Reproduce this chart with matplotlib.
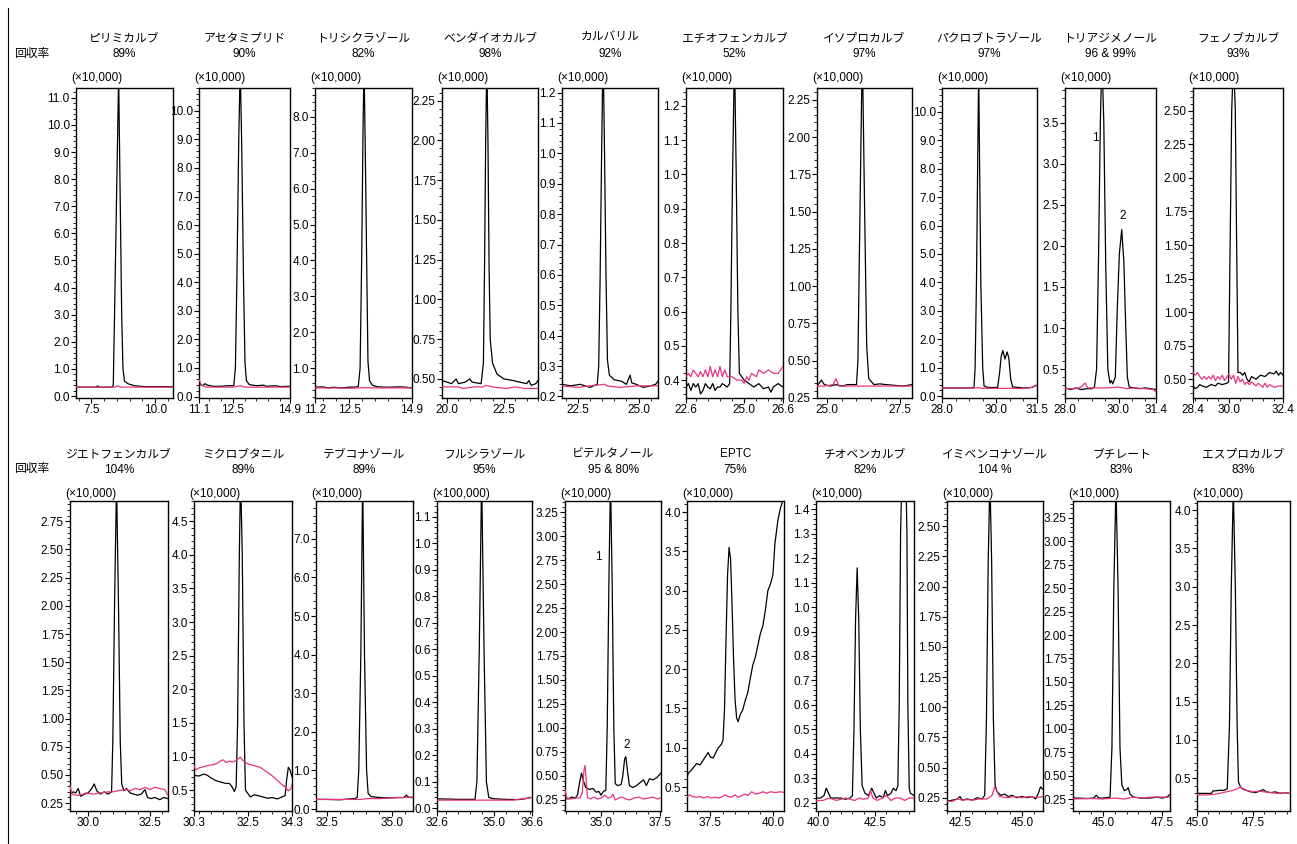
import matplotlib
matplotlib.use('Agg')
import matplotlib.pyplot as plt
from matplotlib.ticker import MultipleLocator, FixedLocator, AutoMinorLocator, FormatStrFormatter

plt.rcParams['font.family'] = ['Liberation Sans', 'Noto Sans CJK JP']

# compound names, recovery and intensity multiplier of each panel
names = ['ピリミカルブ', 'アセタミプリド', 'トリシクラゾール', 'ベンダイオカルブ', 'カルバリル',
         'エチオフェンカルブ', 'イソプロカルブ', 'パクロブトラゾール', 'トリアジメノール', 'フェノブカルブ',
         'ジエトフェンカルブ', 'ミクロブタニル', 'テブコナゾール', 'フルシラゾール', 'ビテルタノール',
         'EPTC', 'チオベンカルブ', 'イミベンコナゾール', 'ブチレート', 'エスプロカルブ']
recovery = ['89%', '90%', '82%', '98%', '92%', '52%', '97%', '97%', '96 & 99%', '93%',
            '104%', '89%', '89%', '95%', '95 & 80%', '75%', '82%', '104 %', '83%', '83%']
mult = ['(×10,000)'] * 13 + ['(×100,000)'] + ['(×10,000)'] * 6

# x tick labels (retention time, min)
xticks_all = [[7.5, 10.0], [11.1, 12.5, 14.9], [11.2, 12.5, 14.9], [20.0, 22.5], [22.5, 25.0],
              [22.6, 25.0, 26.6], [25.0, 27.5], [28.0, 30.0, 31.5], [28.0, 30.0, 31.4], [28.4, 30.0, 32.4],
              [30.0, 32.5], [30.3, 32.5, 34.3], [32.5, 35.0], [32.6, 35.0, 36.6], [35.0, 37.5],
              [37.5, 40.0], [40.0, 42.5], [42.5, 45.0], [45.0, 47.5], [45.0, 47.5]]

# chromatogram traces, (time, intensity): black = sample, pink = blank
black_01 = [(6.9,0.33),(7.5,0.33),(7.7,0.33),(7.75,0.38),(7.8,0.33),(8.3,0.33),(8.36,0.4),(8.41,3.0),
            (8.57,11.8),(8.69,3.0),(8.74,1.0),(8.8,0.55),(8.95,0.45),(9.2,0.38),(9.6,0.35),(10.7,0.35)]
pink_01 = [(6.9,0.33),(8.4,0.33),(8.55,0.38),(8.65,0.33),(10.7,0.33)]

black_02 = [(11.1,0.55),(11.15,0.42),(11.25,0.38),(11.35,0.45),(11.45,0.4),(11.7,0.36),(12.0,0.36),
            (12.3,0.38),(12.55,0.38),(12.62,1.0),(12.68,4.0),(12.76,9.0),(12.82,11.5),(12.88,9.0),
            (12.96,4.0),(13.02,1.2),(13.08,0.55),(13.2,0.42),(13.5,0.38),(13.8,0.4),(13.9,0.36),
            (14.3,0.38),(14.5,0.35),(14.9,0.36)]
pink_02 = [(11.1,0.6),(11.2,0.4),(11.4,0.33),(12.5,0.33),(12.85,0.38),(13.0,0.33),(14.9,0.33)]

black_03 = [(11.2,0.47),(11.5,0.48),(11.7,0.45),(11.9,0.47),(12.2,0.45),(12.5,0.47),(12.85,0.48),
            (12.92,1.0),(12.98,4.0),(13.03,7.5),(13.07,9.5),(13.11,7.5),(13.17,4.0),(13.22,1.2),
            (13.28,0.65),(13.4,0.52),(13.6,0.48),(14.0,0.47),(14.4,0.48),(14.7,0.47),(14.85,0.45),(14.9,0.47)]
pink_03 = [(11.2,0.45),(12.0,0.45),(12.6,0.44),(13.1,0.46),(13.5,0.45),(14.9,0.45)]

black_04 = [(19.78,0.49),(20.0,0.48),(20.2,0.47),(20.4,0.5),(20.5,0.47),(20.8,0.48),(21.0,0.5),
            (21.1,0.48),(21.5,0.47),(21.6,0.6),(21.65,1.2),(21.7,2.0),(21.75,2.5),(21.8,2.0),(21.85,1.2),
            (21.9,0.75),(22.0,0.6),(22.2,0.53),(22.5,0.5),(22.9,0.49),(23.2,0.48),(23.5,0.47),(23.6,0.49),
            (23.7,0.46),(23.9,0.47),(24.0,0.49)]
pink_04 = [(19.78,0.45),(20.5,0.45),(20.7,0.44),(21.2,0.45),(21.6,0.45),(21.7,0.46),(22.0,0.45),
           (22.6,0.44),(23.0,0.45),(23.4,0.44),(24.0,0.44)]

black_05 = [(21.85,0.24),(22.2,0.235),(22.6,0.24),(23.0,0.23),(23.3,0.24),(23.36,0.3),(23.42,0.6),
            (23.48,1.0),(23.54,1.35),(23.6,1.0),(23.66,0.6),(23.72,0.32),(23.8,0.27),(24.0,0.255),
            (24.3,0.25),(24.5,0.24),(24.65,0.27),(24.72,0.245),(24.9,0.24),(25.2,0.23),(25.5,0.235),
            (25.7,0.24),(25.8,0.25)]
pink_05 = [(21.85,0.235),(22.5,0.23),(23.0,0.235),(23.6,0.24),(23.7,0.235),(24.2,0.23),(25.0,0.235),
           (25.8,0.235)]

black_06 = [(22.6,0.38),(22.7,0.39),(22.8,0.37),(22.9,0.39),(23.0,0.38),(23.1,0.39),(23.2,0.36),
            (23.3,0.37),(23.4,0.39),(23.5,0.38),(23.6,0.375),(23.7,0.39),(23.8,0.37),(23.9,0.38),
            (24.0,0.38),(24.1,0.39),(24.3,0.38),(24.4,0.39),(24.45,0.6),(24.52,1.0),(24.6,1.35),
            (24.67,1.0),(24.74,0.6),(24.8,0.42),(24.9,0.41),(25.0,0.4),(25.2,0.39),(25.4,0.38),
            (25.6,0.39),(25.8,0.375),(26.0,0.38),(26.1,0.365),(26.2,0.38),(26.4,0.39),(26.6,0.38)]
pink_06 = [(22.6,0.41),(22.7,0.42),(22.8,0.41),(22.9,0.43),(23.0,0.42),(23.1,0.41),(23.2,0.425),
           (23.3,0.41),(23.4,0.43),(23.5,0.41),(23.6,0.44),(23.7,0.41),(23.8,0.43),(23.9,0.41),
           (24.0,0.44),(24.1,0.41),(24.2,0.43),(24.3,0.41),(24.5,0.41),(24.7,0.4),(24.9,0.4),
           (25.0,0.39),(25.1,0.41),(25.2,0.4),(25.3,0.42),(25.5,0.41),(25.6,0.43),(25.8,0.42),
           (26.0,0.43),(26.2,0.42),(26.4,0.42),(26.5,0.43),(26.6,0.44)]

black_07 = [(24.65,0.33),(24.8,0.37),(24.9,0.34),(25.1,0.33),(25.3,0.34),(25.5,0.33),(25.7,0.34),
            (26.0,0.34),(26.05,0.5),(26.12,1.5),(26.2,2.6),(26.28,1.5),(26.35,0.6),(26.42,0.38),
            (26.6,0.34),(26.8,0.345),(27.0,0.34),(27.3,0.335),(27.6,0.33),(27.9,0.34)]
pink_07 = [(24.65,0.33),(24.9,0.33),(25.2,0.34),(25.3,0.38),(25.4,0.33),(26.0,0.33),(26.5,0.33),
           (27.0,0.33),(27.9,0.33)]

black_08 = [(28.0,0.28),(29.0,0.28),(29.18,0.3),(29.22,1.0),(29.27,4.0),(29.35,11.5),(29.43,4.0),
            (29.5,1.0),(29.55,0.35),(29.7,0.3),(30.05,0.3),(30.12,0.8),(30.18,1.4),(30.24,1.6),
            (30.32,1.3),(30.4,1.55),(30.46,1.35),(30.53,0.6),(30.6,0.32),(31.0,0.28),(31.3,0.3),(31.5,0.38)]
pink_08 = [(28.0,0.28),(29.3,0.28),(29.35,0.3),(29.45,0.27),(30.5,0.27),(31.0,0.26),(31.3,0.3),(31.5,0.4)]

black_09 = [(28.0,0.27),(28.2,0.25),(28.4,0.27),(28.6,0.25),(28.8,0.26),(29.0,0.26),(29.1,0.28),
            (29.18,0.5),(29.25,1.8),(29.32,3.5),(29.38,4.3),(29.45,3.5),(29.52,1.8),(29.6,0.5),
            (29.68,0.33),(29.73,0.36),(29.78,0.32),(29.88,0.4),(29.95,1.2),(30.03,1.9),(30.12,2.2),
            (30.2,1.8),(30.27,1.0),(30.33,0.4),(30.4,0.28),(30.6,0.27),(30.8,0.26),(31.0,0.27),
            (31.2,0.26),(31.4,0.25)]
pink_09 = [(28.0,0.26),(28.4,0.26),(28.6,0.28),(28.75,0.33),(28.85,0.27),(29.2,0.27),(29.6,0.27),
           (30.0,0.28),(30.3,0.26),(30.6,0.27),(31.0,0.26),(31.3,0.25),(31.4,0.22)]

black_10 = [(28.4,0.45),(28.5,0.43),(28.6,0.44),(28.7,0.46),(28.8,0.45),(29.0,0.44),(29.2,0.46),
            (29.4,0.45),(29.5,0.47),(29.7,0.46),(29.9,0.47),(29.98,0.48),(30.05,1.5),(30.12,2.5),
            (30.2,2.9),(30.28,2.5),(30.34,1.5),(30.4,0.55),(30.5,0.55),(30.6,0.53),(30.7,0.55),
            (30.8,0.5),(30.9,0.48),(31.0,0.52),(31.2,0.5),(31.4,0.53),(31.6,0.52),(31.8,0.55),
            (32.0,0.54),(32.1,0.56),(32.2,0.53),(32.3,0.55),(32.4,0.53)]
pink_10 = [(28.4,0.55),(28.5,0.53),(28.6,0.55),(28.7,0.52),(28.8,0.5),(28.9,0.52),(29.0,0.5),
           (29.1,0.52),(29.2,0.5),(29.3,0.53),(29.4,0.49),(29.5,0.52),(29.6,0.5),(29.7,0.53),
           (29.8,0.49),(30.0,0.54),(30.1,0.5),(30.2,0.53),(30.3,0.47),(30.4,0.52),(30.5,0.48),
           (30.6,0.5),(30.7,0.46),(30.8,0.48),(30.9,0.46),(31.0,0.48),(31.2,0.45),(31.3,0.47),
           (31.5,0.44),(31.6,0.47),(31.7,0.44),(31.8,0.46),(32.0,0.44),(32.2,0.45),(32.4,0.45)]

black_11 = [(29.27,0.33),(29.4,0.35),(29.5,0.34),(29.6,0.38),(29.7,0.31),(29.85,0.33),(30.0,0.34),
            (30.15,0.38),(30.25,0.42),(30.35,0.36),(30.5,0.33),(30.65,0.35),(30.8,0.33),(30.95,0.35),
            (31.0,0.8),(31.07,2.0),(31.15,3.1),(31.23,2.0),(31.3,0.8),(31.36,0.42),(31.45,0.36),
            (31.55,0.38),(31.7,0.34),(31.85,0.33),(32.0,0.32),(32.15,0.33),(32.3,0.37),(32.4,0.3),
            (32.55,0.29),(32.7,0.3),(32.9,0.28),(33.05,0.3),(33.23,0.29)]
pink_11 = [(29.27,0.4),(29.35,0.33),(29.5,0.32),(29.7,0.32),(29.9,0.34),(30.2,0.33),(30.5,0.34),
           (30.8,0.35),(31.0,0.35),(31.2,0.36),(31.5,0.37),(31.7,0.36),(31.9,0.38),(32.1,0.37),
           (32.3,0.39),(32.5,0.37),(32.7,0.39),(32.9,0.38),(33.1,0.37),(33.23,0.32)]

black_12 = [(30.3,0.72),(30.5,0.71),(30.7,0.74),(30.85,0.72),(31.0,0.68),(31.2,0.64),(31.4,0.62),
            (31.6,0.6),(31.75,0.6),(31.85,0.55),(31.95,0.48),(32.02,0.55),(32.08,1.5),(32.15,4.0),
            (32.2,5.2),(32.27,4.0),(32.34,1.5),(32.4,0.5),(32.5,0.45),(32.6,0.4),(32.75,0.43),
            (32.9,0.42),(33.1,0.4),(33.3,0.38),(33.5,0.39),(33.7,0.37),(33.9,0.4),(34.02,0.42),
            (34.08,0.65),(34.15,0.84),(34.22,0.8),(34.3,0.7)]
pink_12 = [(30.3,0.86),(30.38,0.8),(30.5,0.83),(30.7,0.85),(30.9,0.87),(31.1,0.88),(31.25,0.9),
           (31.4,0.94),(31.5,0.95),(31.6,0.91),(31.75,0.93),(31.9,0.92),(32.05,0.95),(32.18,0.99),
           (32.3,0.94),(32.45,0.9),(32.6,0.88),(32.8,0.86),(33.0,0.84),(33.2,0.79),(33.4,0.74),
           (33.6,0.68),(33.8,0.61),(34.0,0.55),(34.15,0.49),(34.25,0.52),(34.3,0.58)]

black_13 = [(32.08,0.25),(32.5,0.25),(33.0,0.24),(33.3,0.26),(33.55,0.27),(33.66,0.3),(33.72,1.0),
            (33.8,4.0),(33.87,8.6),(33.94,4.0),(34.02,1.0),(34.08,0.4),(34.2,0.32),(34.5,0.3),
            (34.9,0.29),(35.2,0.3),(35.45,0.3),(35.55,0.36),(35.65,0.3),(35.8,0.3)]
pink_13 = [(32.08,0.25),(33.0,0.25),(33.8,0.25),(34.0,0.27),(34.5,0.27),(35.0,0.29),(35.5,0.3),(35.8,0.31)]

black_14 = [(32.6,0.035),(33.5,0.033),(34.2,0.033),(34.28,0.1),(34.38,0.6),(34.48,1.25),(34.58,0.6),
            (34.68,0.1),(34.78,0.04),(35.0,0.035),(35.5,0.033),(36.0,0.032),(36.3,0.035),(36.5,0.04),
            (36.6,0.04)]
pink_14 = [(32.6,0.03),(34.4,0.03),(34.8,0.03),(35.8,0.03),(36.0,0.033),(36.3,0.036),(36.6,0.04)]

black_15 = [(33.47,0.27),(33.6,0.26),(33.75,0.28),(33.9,0.27),(34.0,0.3),(34.08,0.42),(34.17,0.53),
            (34.25,0.45),(34.35,0.38),(34.5,0.36),(34.65,0.37),(34.8,0.33),(34.9,0.34),(35.0,0.3),
            (35.1,0.34),(35.2,0.35),(35.26,1.0),(35.33,2.5),(35.4,3.6),(35.47,2.5),(35.54,1.0),
            (35.6,0.42),(35.7,0.4),(35.85,0.41),(35.92,0.5),(36.0,0.68),(36.05,0.7),(36.12,0.55),
            (36.2,0.4),(36.35,0.38),(36.5,0.4),(36.65,0.43),(36.8,0.46),(36.92,0.4),(37.05,0.47),
            (37.2,0.46),(37.35,0.48),(37.54,0.53)]
pink_15 = [(33.47,0.36),(33.55,0.27),(33.7,0.26),(33.9,0.27),(34.1,0.27),(34.2,0.32),(34.27,0.55),
           (34.32,0.61),(34.37,0.45),(34.42,0.28),(34.55,0.26),(34.7,0.28),(34.85,0.26),(35.0,0.27),
           (35.15,0.3),(35.3,0.27),(35.42,0.28),(35.5,0.31),(35.6,0.25),(35.75,0.27),(35.9,0.28),
           (36.05,0.26),(36.2,0.25),(36.4,0.27),(36.6,0.28),(36.8,0.26),(37.0,0.27),(37.2,0.28),
           (37.4,0.26),(37.54,0.27)]

black_16 = [(36.59,0.63),(36.65,0.68),(36.72,0.7),(36.85,0.75),(36.97,0.8),(37.1,0.78),(37.23,0.84),
            (37.35,0.9),(37.43,0.94),(37.52,0.88),(37.63,0.87),(37.75,0.95),(37.83,1.0),(37.95,1.04),
            (38.02,1.1),(38.08,1.5),(38.14,2.4),(38.2,3.2),(38.26,3.55),(38.32,3.4),(38.38,2.8),
            (38.44,2.1),(38.5,1.6),(38.56,1.38),(38.62,1.33),(38.7,1.42),(38.8,1.48),(38.9,1.6),
            (39.0,1.7),(39.1,1.88),(39.2,2.05),(39.3,2.15),(39.4,2.3),(39.5,2.45),(39.6,2.55),
            (39.7,2.75),(39.8,3.0),(39.9,3.08),(40.0,3.2),(40.08,3.6),(40.2,3.9),(40.3,4.05),(40.44,4.2)]
pink_16 = [(36.59,0.38),(36.7,0.4),(36.8,0.38),(36.95,0.37),(37.1,0.38),(37.25,0.36),(37.4,0.38),
           (37.55,0.36),(37.7,0.37),(37.85,0.36),(38.0,0.38),(38.1,0.4),(38.2,0.38),(38.35,0.37),
           (38.5,0.4),(38.6,0.37),(38.75,0.39),(38.9,0.41),(39.0,0.39),(39.15,0.44),(39.3,0.41),
           (39.45,0.42),(39.6,0.44),(39.75,0.42),(39.9,0.44),(40.1,0.43),(40.3,0.44),(40.44,0.43)]

black_17 = [(39.9,0.22),(40.1,0.22),(40.25,0.23),(40.35,0.26),(40.45,0.24),(40.55,0.22),(40.8,0.22),
            (41.0,0.22),(41.2,0.215),(41.4,0.22),(41.5,0.23),(41.57,0.5),(41.64,0.95),(41.71,1.16),
            (41.78,0.95),(41.85,0.5),(41.93,0.27),(42.05,0.24),(42.2,0.23),(42.35,0.26),(42.45,0.24),
            (42.55,0.22),(42.7,0.23),(42.85,0.22),(42.95,0.25),(43.05,0.23),(43.2,0.24),(43.3,0.26),
            (43.42,0.25),(43.5,0.27),(43.56,0.6),(43.62,1.3),(43.72,1.7),(43.82,1.7),(43.9,1.3),
            (43.94,0.6),(44.0,0.26),(44.05,0.24),(44.21,0.23)]
pink_17 = [(39.9,0.21),(40.2,0.21),(40.5,0.22),(40.8,0.21),(41.2,0.22),(41.6,0.21),(41.8,0.22),
           (42.0,0.215),(42.2,0.22),(42.3,0.25),(42.4,0.22),(42.6,0.21),(42.8,0.22),(43.0,0.23),
           (43.2,0.21),(43.4,0.22),(43.6,0.22),(43.8,0.21),(44.0,0.22),(44.21,0.22)]

black_18 = [(41.98,0.22),(42.2,0.23),(42.4,0.24),(42.5,0.26),(42.6,0.23),(42.8,0.24),(43.0,0.23),
            (43.2,0.25),(43.4,0.24),(43.5,0.27),(43.57,0.9),(43.64,2.2),(43.71,2.9),(43.78,2.2),
            (43.85,0.9),(43.92,0.35),(44.0,0.3),(44.15,0.27),(44.3,0.28),(44.45,0.26),(44.6,0.27),
            (44.8,0.25),(45.0,0.26),(45.2,0.25),(45.4,0.26),(45.55,0.24),(45.65,0.28),(45.75,0.34),
            (45.85,0.32)]
pink_18 = [(41.98,0.22),(42.2,0.22),(42.4,0.24),(42.6,0.23),(42.8,0.235),(43.0,0.23),(43.3,0.24),
           (43.6,0.24),(43.8,0.27),(43.9,0.34),(44.0,0.3),(44.1,0.26),(44.4,0.25),(44.7,0.26),
           (45.0,0.25),(45.3,0.26),(45.6,0.25),(45.85,0.26)]

black_19 = [(43.73,0.26),(44.0,0.26),(44.3,0.255),(44.6,0.26),(44.72,0.29),(44.82,0.26),(45.0,0.26),
            (45.3,0.27),(45.38,0.8),(45.46,2.5),(45.55,3.6),(45.64,2.5),(45.72,0.8),(45.8,0.4),
            (45.9,0.34),(46.0,0.35),(46.07,0.37),(46.15,0.3),(46.3,0.27),(46.6,0.26),(47.0,0.26),
            (47.3,0.27),(47.5,0.26),(47.7,0.27),(47.84,0.3)]
pink_19 = [(43.73,0.25),(44.5,0.255),(45.0,0.25),(45.5,0.26),(45.9,0.25),(46.3,0.27),(46.7,0.26),
           (47.0,0.27),(47.4,0.27),(47.84,0.27)]

black_20 = [(45.0,0.3),(45.65,0.3),(45.7,0.33),(46.0,0.34),(46.2,0.34),(46.35,0.36),(46.45,1.2),
            (46.53,3.0),(46.62,4.3),(46.71,3.0),(46.79,1.2),(46.85,0.45),(46.95,0.38),(47.05,0.36),
            (47.2,0.34),(47.4,0.32),(47.6,0.31),(47.8,0.33),(47.95,0.35),(48.1,0.32),(48.3,0.31),
            (48.5,0.32),(48.7,0.3),(48.9,0.31),(49.15,0.3)]
pink_20 = [(45.0,0.28),(45.5,0.28),(45.8,0.29),(46.0,0.3),(46.3,0.32),(46.6,0.34),(46.8,0.36),
           (46.95,0.39),(47.05,0.35),(47.2,0.34),(47.5,0.32),(47.8,0.33),(48.0,0.32),(48.3,0.31),
           (48.6,0.3),(48.9,0.31),(49.15,0.3)]

# peak numbers written inside two panels
peak_labels = {8: [('1', 29.12, 3.32), ('2', 30.16, 2.36)],
               14: [('1', 34.87, 2.78), ('2', 36.1, 0.82)]}

blacks = [black_01, black_02, black_03, black_04, black_05, black_06, black_07, black_08, black_09, black_10,
          black_11, black_12, black_13, black_14, black_15, black_16, black_17, black_18, black_19, black_20]
pinks = [pink_01, pink_02, pink_03, pink_04, pink_05, pink_06, pink_07, pink_08, pink_09, pink_10,
         pink_11, pink_12, pink_13, pink_14, pink_15, pink_16, pink_17, pink_18, pink_19, pink_20]

# ---- layout (pixels of the 1297x844 canvas) ----
W, H = 1297, 844
box_x = [(76, 173), (199, 290), (315, 412), (442, 538), (562, 658), (686, 783), (817, 912), (942, 1037),
         (1065, 1156), (1193, 1283),
         (70, 168), (194, 292), (316, 413), (437, 532), (565, 661), (687, 784), (816, 914), (947, 1043),
         (1073, 1170), (1197, 1290)]
row_y = [(88, 398), (501, 811)]
xlims = [(6.9, 10.7), (11.1, 14.9), (11.2, 14.9), (19.78, 24.0), (21.85, 25.8), (22.6, 26.6), (24.65, 27.9),
         (28.0, 31.5), (28.0, 31.4), (28.4, 32.4),
         (29.27, 33.23), (30.3, 34.3), (32.08, 35.8), (32.6, 36.6), (33.47, 37.54), (36.59, 40.44),
         (39.9, 44.21), (41.98, 45.85), (43.73, 47.84), (45.0, 49.15)]
ylims = [(-0.07, 11.36), (-0.05, 10.8), (0.17, 8.8), (0.38, 2.33), (0.195, 1.215), (0.348, 1.252),
         (0.25, 2.33), (-0.07, 10.84), (0.147, 3.925), (0.36, 2.67),
         (0.18, 2.93), (0.19, 4.8), (-0.05, 7.98), (-0.011, 1.16), (0.135, 3.365), (0.195, 4.14),
         (0.167, 1.433), (0.14, 2.71), (0.122, 3.43), (0.07, 4.12)]
ystep = [1.0, 1.0, 1.0, 0.25, 0.1, 0.1, 0.25, 1.0, 0.5, 0.25,
         0.25, 0.5, 1.0, 0.1, 0.25, 0.5, 0.1, 0.25, 0.25, 0.5]
PINK = '#e8347f'

fig = plt.figure(figsize=(W / 100, H / 100), dpi=100)

for i in range(20):
    l, r = box_x[i]
    t, b = row_y[i // 10]
    ax = fig.add_axes([l / W, 1 - b / H, (r - l) / W, (b - t) / H])
    bx, by = zip(*blacks[i])
    px, py = zip(*pinks[i])
    ax.plot(bx, by, color='black', lw=0.9, zorder=2)
    ax.plot(px, py, color=PINK, lw=0.9, zorder=3)
    ax.set_xlim(*xlims[i])
    ax.set_ylim(*ylims[i])
    ax.xaxis.set_major_locator(FixedLocator(xticks_all[i]))
    ax.xaxis.set_minor_locator(MultipleLocator(0.5))
    ax.xaxis.set_major_formatter(FormatStrFormatter('%.1f'))
    ax.yaxis.set_major_locator(MultipleLocator(ystep[i]))
    ax.yaxis.set_minor_locator(AutoMinorLocator(5))
    ax.yaxis.set_major_formatter(FormatStrFormatter('%.2f' if ystep[i] == 0.25 else '%.1f'))
    ax.tick_params(which='major', direction='out', length=3.5, width=0.8, pad=1, labelsize=8.5)
    ax.tick_params(which='minor', direction='out', length=2, width=0.6)
    for sp in ax.spines.values():
        sp.set_linewidth(1.0)
    for txt, xx, yy in peak_labels.get(i, []):
        ax.text(xx, yy, txt, fontsize=8.5, ha='center', va='center')
    # titles above each box
    cx = (l + r) / 2 / W
    yname = 38 if i < 10 else 454
    fig.text(cx, 1 - yname / H, names[i], ha='center', va='center', fontsize=8.5)
    fig.text(cx, 1 - (yname + 16) / H, recovery[i], ha='center', va='center', fontsize=8.5)
    fig.text((l - 5) / W, 1 - (yname + 40) / H, mult[i], ha='left', va='center', fontsize=8.5)

for yy in (54, 469):
    fig.text(14 / W, 1 - yy / H, '回収率', ha='left', va='center', fontsize=8.5)

# frame line at the left edge
fig.add_artist(plt.Line2D([8 / W, 8 / W], [0, 1 - 8 / H], color='black', lw=0.8))

fig.savefig('out.png', dpi=100)
